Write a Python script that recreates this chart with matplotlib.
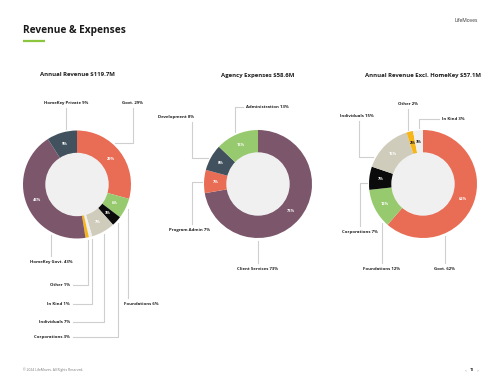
#!/usr/bin/env python3

# Revenue & expenses page: three donut charts with leader-line labels.

import matplotlib
matplotlib.use("Agg")
import matplotlib.pyplot as plt
import numpy as np
from matplotlib.patches import Circle

W, H = 502, 388

# ---- data -------------------------------------------------------------
rev_labels = ["Govt.", "Foundations", "Corporations", "Individuals",
              "In Kind", "Other", "HomeKey Govt.", "HomeKey Private"]
rev_values = [29, 6, 3, 7, 1, 1, 43, 9]

exp_labels = ["Client Services", "Program Admin", "Development",
              "Administration"]
exp_values = [73, 7, 8, 13]

excl_labels = ["Govt.", "Foundations", "Corporations", "Individuals",
               "Other", "In Kind"]
excl_values = [62, 12, 7, 15, 2, 3]

titles = ["Annual Revenue $119.7M", "Agency Expenses $58.6M",
          "Annual Revenue Excl. HomeKey $57.1M"]

# ---- style ------------------------------------------------------------
CORAL = "#E96D55"
GREEN = "#97CA6E"
BLACK = "#0B0B0B"
BEIGE = "#D0CCBB"
LIGHT = "#EFEFEF"
YELLOW = "#F6B519"
PURPLE = "#7C566B"
SLATE = "#41525E"
HOLE = "#F0F0F0"
LINE = "#CFCFCF"
TEXT = "#1E1E1E"

rev_colors = [CORAL, GREEN, BLACK, BEIGE, LIGHT, YELLOW, PURPLE, SLATE]
exp_colors = [PURPLE, CORAL, SLATE, GREEN]
excl_colors = [CORAL, GREEN, BLACK, BEIGE, YELLOW, LIGHT]

R_OUT, R_IN = 54, 31

plt.rcParams["font.family"] = ["Open Sans", "DejaVu Sans"]
plt.rcParams["text.parse_math"] = False


def Y(y):
    # image row -> page axis y
    return H - y


def circle_x(cx, cy, x, side, gap=2.5):
    # y (image coords) where vertical line at x meets the donut edge
    dy = np.sqrt(max((R_OUT + gap) ** 2 - (x - cx) ** 2, 0))
    return cy - dy if side == "top" else cy + dy


def circle_y(cx, cy, y, side, gap=2.5):
    dx = np.sqrt(max((R_OUT + gap) ** 2 - (y - cy) ** 2, 0))
    return cx - dx if side == "left" else cx + dx


# leader layouts: (slice, kind, args)
#   "v"  : vertical line at x up/down to label at ty
#   "vh" : vertical at x to ty, then horizontal to tx (text edge)
#   "hv" : horizontal at y to elbow x, then vertical to label at ty
rev_leaders = [
    (7, "v", dict(x=66, ty=103)),
    (0, "hv", dict(y=143, ex=133, ty=103, side="right")),
    (6, "v", dict(x=51, ty=262)),
    (5, "vh", dict(x=88, ty=285, tx=70)),
    (4, "vh", dict(x=92, ty=304, tx=70)),
    (3, "vh", dict(x=104, ty=322, tx=70)),
    (2, "vh", dict(x=118, ty=337, tx=70)),
    (1, "v", dict(x=128, ty=304, ha="left", tx=124)),
]
exp_leaders = [
    (3, "vh", dict(x=235, ty=107, tx=246)),
    (2, "hv", dict(y=158, ex=192, ty=117, side="left", tx=194, ha="right")),
    (1, "hv", dict(y=182, ex=192, ty=230, side="left", tx=190)),
    (0, "v", dict(x=258, ty=269)),
]
excl_leaders = [
    (3, "hv", dict(y=157, ex=359, ty=116, side="left", tx=357)),
    (4, "v", dict(x=408, ty=104)),
    (5, "vh", dict(x=419, ty=119, tx=442)),
    (2, "hv", dict(y=183, ex=360, ty=232, side="left")),
    (1, "v", dict(x=382, ty=269)),
    (0, "v", dict(x=445, ty=269)),
]

charts = [
    (rev_labels, rev_values, rev_colors, (77, 184.5), rev_leaders,
     {4, 5}, set()),
    (exp_labels, exp_values, exp_colors, (258, 184), exp_leaders,
     set(), set()),
    (excl_labels, excl_values, excl_colors, (423, 184), excl_leaders,
     set(), {4, 5}),
]

fig = plt.figure(figsize=(W / 100, H / 100), dpi=100)
ax = fig.add_axes([0, 0, 1, 1])

for ci, (labels, values, colors, (cx, cy), leaders, hide, dark) in \
        enumerate(charts):
    wedges, _ = ax.pie(values, colors=colors, startangle=90,
                       counterclock=False, radius=R_OUT,
                       center=(cx, Y(cy)),
                       wedgeprops=dict(width=R_OUT - R_IN, linewidth=0))
    ax.add_patch(Circle((cx, Y(cy)), R_IN, color=HOLE, zorder=3))

    # percentage inside each slice
    rm = (R_OUT + R_IN) / 2
    for i, w in enumerate(wedges):
        if i in hide:
            continue
        a = np.deg2rad((w.theta1 + w.theta2) / 2)
        ax.text(cx + rm * np.cos(a), Y(cy) + rm * np.sin(a),
                f"{values[i]}%", ha="center", va="center",
                fontsize=2.9, fontweight="bold",
                color=TEXT if i in dark else "white", zorder=4)

    # title
    ax.text(cx, Y(75), titles[ci], ha="center", va="center",
            fontsize=4.3, fontweight="bold", color=TEXT)

    # leaders
    for idx, kind, o in leaders:
        name = f"{labels[idx]} {values[idx]}%"
        ty = o["ty"]
        above = ty < cy
        if kind == "v":
            x = o["x"]
            y0 = circle_x(cx, cy, x, "top" if above else "bottom")
            y1 = ty + 5 if above else ty - 6
            ax.plot([x, x], [Y(y0), Y(y1)], color=LINE, lw=0.8)
            tx = o.get("tx", x)
            ax.text(tx, Y(ty), name, ha=o.get("ha", "center"),
                    va="center", fontsize=3.1, fontweight="bold",
                    color=TEXT)
        elif kind == "vh":
            x = o["x"]
            y0 = circle_x(cx, cy, x, "top" if above else "bottom")
            tx = o["tx"]
            right = tx > x
            x1 = tx - 3 if right else tx + 3
            ax.plot([x, x, x1], [Y(y0), Y(ty), Y(ty)], color=LINE, lw=0.8)
            ax.text(tx, Y(ty), name, ha="left" if right else "right",
                    va="center", fontsize=3.1, fontweight="bold",
                    color=TEXT)
        else:
            y = o["y"]
            x0 = circle_y(cx, cy, y, o["side"])
            ex = o["ex"]
            y1 = ty + 5 if above else ty - 6
            ax.plot([x0, ex, ex], [Y(y), Y(y), Y(y1)], color=LINE, lw=0.8)
            tx = o.get("tx", ex)
            ax.text(tx, Y(ty), name, ha=o.get("ha", "center"),
                    va="center", fontsize=3.1, fontweight="bold",
                    color=TEXT)

# page header / footer
ax.text(23, Y(31), "Revenue & Expenses", ha="left", va="center",
        fontsize=7.3, fontweight="bold", color="#1A1A1A")
ax.plot([23, 45], [Y(41), Y(41)], color="#8CC63F", lw=1.6,
        solid_capstyle="butt")
ax.text(478, Y(20), "LifeMoves", ha="right", va="center",
        fontsize=3.6, color="#333333")
ax.text(23, Y(370), "\u00a9 2024 LifeMoves. All Rights Reserved.",
        ha="left", va="center", fontsize=2.4, color="#777777")
ax.text(472, Y(370), "12", ha="center", va="center", fontsize=2.6,
        fontweight="bold", color="#333333")
ax.text(466, Y(370), "<", ha="center", va="center", fontsize=2.4,
        color="#888888")
ax.text(478, Y(370), ">", ha="center", va="center", fontsize=2.4,
        color="#888888")

ax.set_xlim(0, W)
ax.set_ylim(0, H)
ax.set_aspect("auto")
ax.axis("off")

fig.savefig("out.png", dpi=100, facecolor="white")
